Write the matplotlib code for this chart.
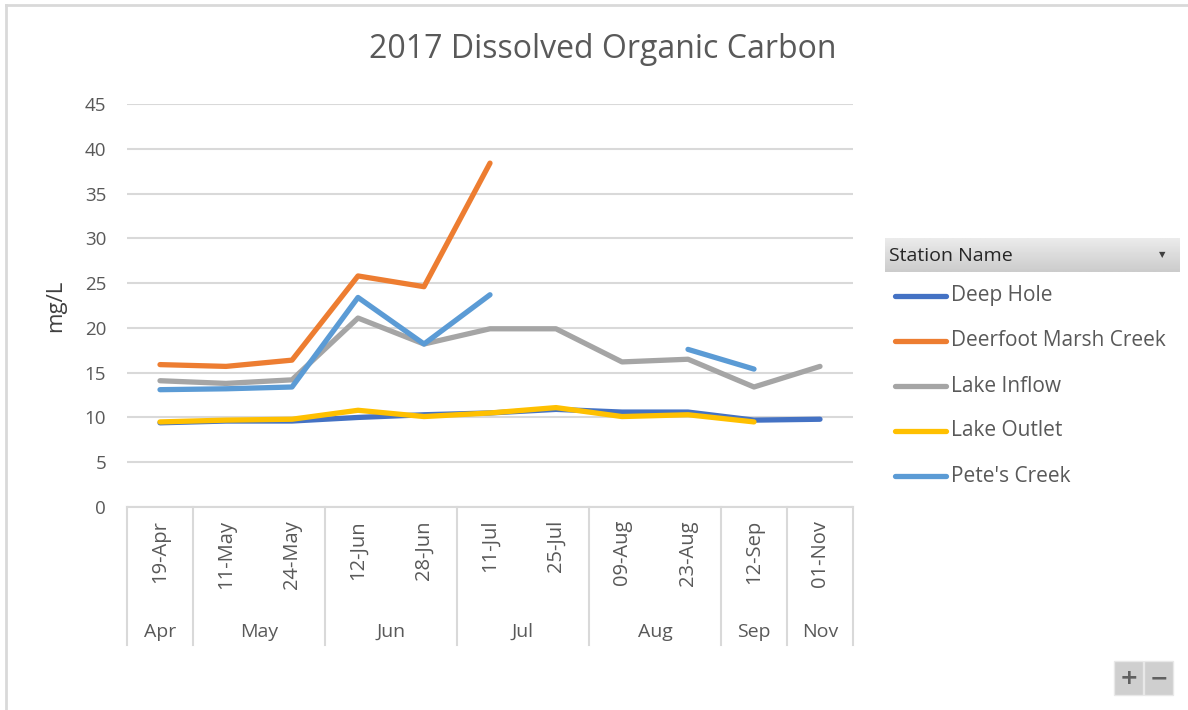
import matplotlib
matplotlib.use("Agg")
import matplotlib.pyplot as plt
import numpy as np
from matplotlib.lines import Line2D
from matplotlib.patches import Rectangle

# Data
dates = ['19-Apr', '11-May', '24-May', '12-Jun', '28-Jun', '11-Jul',
         '25-Jul', '09-Aug', '23-Aug', '12-Sep', '01-Nov']
months = ['Apr', 'May', 'Jun', 'Jul', 'Aug', 'Sep', 'Nov']
month_counts = [1, 2, 2, 2, 2, 1, 1]
nan = np.nan
deep_hole = [9.4, 9.6, 9.6, 10.0, 10.3, 10.5, 10.9, 10.6, 10.6, 9.7, 9.8]
deerfoot = [15.9, 15.7, 16.4, 25.8, 24.6, 38.4, nan, nan, nan, nan, nan]
lake_inflow = [14.1, 13.8, 14.2, 21.1, 18.2, 19.9, 19.9, 16.2, 16.5, 13.4, 15.7]
lake_outlet = [9.5, 9.7, 9.8, 10.8, 10.1, 10.5, 11.1, 10.1, 10.3, 9.5, nan]
petes_creek = [13.1, 13.2, 13.4, 23.4, 18.2, 23.7, nan, nan, 17.6, 15.4, nan]

series = [
    ('Deep Hole', deep_hole, '#4472C4'),
    ('Deerfoot Marsh Creek', deerfoot, '#ED7D31'),
    ('Lake Inflow', lake_inflow, '#A5A5A5'),
    ('Lake Outlet', lake_outlet, '#FFC000'),
    ("Pete's Creek", petes_creek, '#5B9BD5'),
]

plt.rcParams['font.family'] = ['Open Sans', 'DejaVu Sans']
W, H = 1188, 710
txt = '#595959'
grid = '#d9d9d9'
lw = 3.8

fig = plt.figure(figsize=(W / 100, H / 100), dpi=100)
ax = fig.add_axes([127 / W, 1 - 507 / H, 726 / W, 403 / H])

x = np.arange(len(dates))
for name, vals, col in series:
    ax.plot(x, vals, color=col, lw=lw, solid_capstyle='round',
            solid_joinstyle='round', label=name)

ax.set_xlim(-0.5, len(dates) - 0.5)
ax.set_ylim(0, 45)
ax.set_yticks(range(0, 50, 5))
ax.yaxis.grid(True, color=grid, lw=1.5)
ax.set_axisbelow(True)
for s in ['top', 'right', 'left']:
    ax.spines[s].set_visible(False)
ax.spines['bottom'].set_color(grid)
ax.spines['bottom'].set_linewidth(1.5)
ax.tick_params(axis='y', length=0, labelsize=13.5, colors=txt, pad=15)
ax.tick_params(axis='x', length=0, labelbottom=False)
ax.set_ylabel('mg/L', fontsize=16, color='#404040', labelpad=13)

# multi-level category axis
tr = ax.get_xaxis_transform()
bot = -138 / 403
bounds = np.concatenate([[0], np.cumsum(month_counts)]) - 0.5
for b in bounds:
    ax.plot([b, b], [0, bot], transform=tr, color=grid, lw=1.5, clip_on=False)
for i, d in enumerate(dates):
    ax.text(i, -13 / 403, d, transform=tr, rotation=90, ha='center', va='top',
            fontsize=14.5, color=txt)
for m, a, b in zip(months, bounds[:-1], bounds[1:]):
    ax.text((a + b) / 2, -125 / 403, m, transform=tr, ha='center', va='center',
            fontsize=14, color=txt)

fig.text(603 / W, 1 - 50 / H, '2017 Dissolved Organic Carbon', ha='center',
         va='center', fontsize=23, color=txt)

# legend header with a light gradient
hax = fig.add_axes([885 / W, 1 - 272 / H, 295 / W, 34 / H])
hax.imshow(np.linspace(0.92, 0.80, 20).reshape(-1, 1), cmap='gray',
           vmin=0, vmax=1, aspect='auto', extent=[0, 1, 0, 1])
hax.set_axis_off()
fig.text(889 / W, 1 - 256 / H, 'Station Name', ha='left', va='center',
         fontsize=14, color='#262626')
fig.text(1162 / W, 1 - 256 / H, '\u25BC', ha='center', va='center',
         fontsize=6, color='#404040')

# legend entries
for k, (name, vals, col) in enumerate(series):
    yy = 1 - (296 + 45 * k) / H
    fig.add_artist(Line2D([895 / W, 946 / W], [yy, yy], color=col, lw=lw,
                          solid_capstyle='round', transform=fig.transFigure))
    fig.text(951 / W, yy, name, ha='left', va='center', fontsize=15,
             color=txt)

# outer frame
fig.add_artist(Line2D([6 / W, 6 / W], [0, 1 - 5 / H], color=grid, lw=2,
                      transform=fig.transFigure))
fig.add_artist(Line2D([6 / W, 1], [1 - 5 / H, 1 - 5 / H], color=grid, lw=2,
                      transform=fig.transFigure))

# zoom buttons
for x0, sym in [(1114, '+'), (1144, '\u2212')]:
    fig.add_artist(Rectangle((x0 / W, 1 - 695 / H), 29 / W, 34 / H,
                             transform=fig.transFigure, facecolor='#cfcfcf',
                             edgecolor='#e8e8e8'))
    fig.text((x0 + 14.5) / W, 1 - 678 / H, sym, ha='center', va='center',
             fontsize=16, fontweight='bold', color='#606060',
             family='DejaVu Sans')

fig.savefig('out.png', dpi=100)
